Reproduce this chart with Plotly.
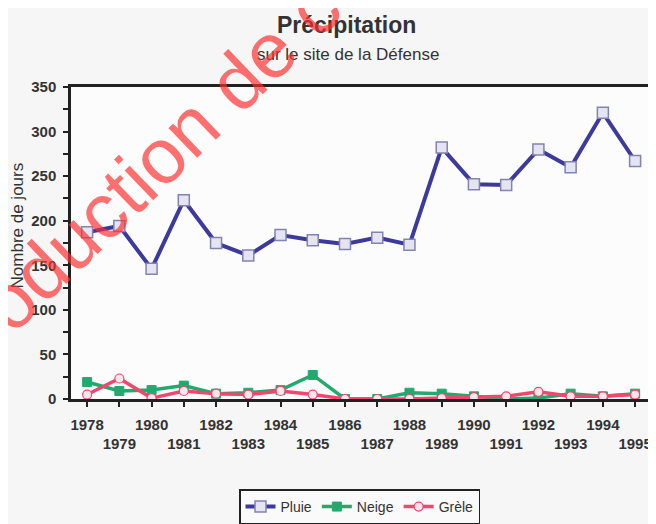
import plotly.graph_objects as go

years = list(range(1978, 1996))
pluie = [187, 194, 146, 223, 175, 161, 184, 178, 174, 181, 173, 282, 241, 240, 280, 260, 321, 267]
neige = [19, 9, 10, 15, 6, 7, 10, 27, 0, 0, 7, 6, 3, 0, 1, 6, 3, 6]
grele = [5, 23, 1, 9, 6, 5, 9, 5, 0, 0, 0, 1, 2, 3, 8, 3, 3, 5]
y_ticks = [0, 50, 100, 150, 200, 250, 300, 350]

FONT = "Liberation Sans, Arial, sans-serif"

fig = go.Figure()
fig.add_trace(go.Scatter(
    x=years, y=pluie, name="Pluie", mode="lines+markers",
    line=dict(color="#3d3a9c", width=4),
    marker=dict(symbol="square", size=11, color="#e4e4f2",
                line=dict(color="#8383b0", width=1.5)),
))
fig.add_trace(go.Scatter(
    x=years, y=neige, name="Neige", mode="lines+markers",
    line=dict(color="#22aa6e", width=3.5),
    marker=dict(symbol="square", size=9, color="#22aa6e",
                line=dict(color="#22aa6e", width=1)),
))
fig.add_trace(go.Scatter(
    x=years, y=grele, name="Grèle", mode="lines+markers",
    line=dict(color="#f2466e", width=3.5),
    marker=dict(symbol="circle", size=9, color="#fbe6ec",
                line=dict(color="#f2466e", width=1.2)),
))

ticktext = [str(y) if y % 2 == 0 else "<br>" + str(y) for y in years]
tickfont = dict(size=15, color="#333", family=FONT, weight="bold")

fig.update_layout(
    width=648, height=516,
    margin=dict(l=63, r=8, t=79, b=125, autoexpand=False),
    paper_bgcolor="#f6f6f6",
    plot_bgcolor="#fcfcfc",
    font=dict(family=FONT, color="#222"),
    showlegend=True,
    legend=dict(
        orientation="h", x=0.5, xanchor="center", y=-0.29, yanchor="top",
        bordercolor="#222", borderwidth=1.5, bgcolor="#fafafa",
        font=dict(size=14, color="#333"), itemwidth=30, tracegroupgap=0,
    ),
    xaxis=dict(
        range=[1977.5, 1995.4],
        tickmode="array", tickvals=years, ticktext=ticktext,
        tickfont=tickfont, ticklabelstandoff=5,
        ticks="outside", ticklen=5, tickwidth=2, tickcolor="#222",
        showline=True, linecolor="#222", linewidth=2.5, mirror=True,
        showgrid=False, zeroline=False, tickangle=0,
    ),
    yaxis=dict(
        range=[0, 350],
        tickmode="array", tickvals=y_ticks,
        tickfont=tickfont, ticklabelstandoff=4,
        ticks="outside", ticklen=5, tickwidth=2, tickcolor="#222",
        minor=dict(dtick=25, tick0=0, ticks="outside", ticklen=5, tickwidth=2, tickcolor="#222"),
        showline=True, linecolor="#222", linewidth=2.5, mirror=True,
        showgrid=False, zeroline=False,
    ),
    annotations=[
        dict(text="<b>Précipitation</b>", xref="paper", yref="paper",
             x=0.477, y=1.199, xanchor="center", yanchor="middle",
             showarrow=False, font=dict(size=23, color="#333")),
        dict(text="sur le site de la Défense", xref="paper", yref="paper",
             x=0.48, y=1.103, xanchor="center", yanchor="middle",
             showarrow=False, font=dict(size=17, color="#333")),
        dict(text="Nombre de jours", xref="paper", yref="paper",
             x=-0.092, y=0.556, xanchor="center", yanchor="middle",
             textangle=-90, showarrow=False, font=dict(size=17, color="#333")),
        dict(text="Reproduction de ce document interdite", xref="paper", yref="paper",
             x=0.490, y=1.378, xanchor="center", yanchor="middle",
             textangle=-44, showarrow=False,
             font=dict(size=78, color="rgba(255,45,45,0.68)", family=FONT)),
    ],
)

fig.write_html("out.html")
